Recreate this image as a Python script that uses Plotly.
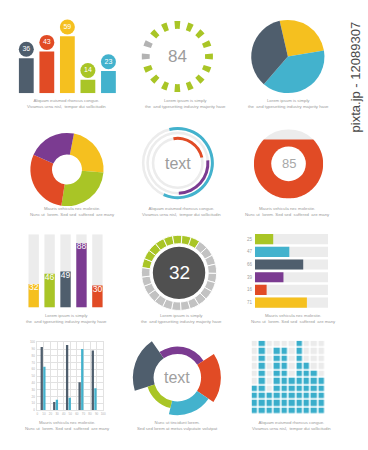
import numpy as np
import plotly.graph_objects as go

W, H = 368, 450

def fx(x):
    return x / W

def fy(y):
    return 1 - y / H

# ---------------- colours ----------------
YELLOW = "#f5c01f"
RED = "#e14b25"
SLATE = "#4f5e6d"
GREEN = "#a9c526"
BLUE = "#43b2cd"
PURPLE = "#7b3b91"
LIGHT = "#ececec"
TXT = "#9a9a9a"

# ---------------- data ----------------
p1_values = [36, 43, 59, 14, 23]
p1_colors = [SLATE, RED, YELLOW, GREEN, BLUE]

p2_value = 84
p2_dot_angles = [0, 22.5, 45, 67.5, 90, 112.5, 135, 157.5, 180, 202.5, 225, 247.5, 270, 292.5, 315, 337.5]
p2_dot_on = [1, 1, 1, 1, 1, 1, 1, 1, 1, 1, 1, 1, 0, 0, 1, 1]

p3_values = [26, 39, 35]
p3_colors = [YELLOW, BLUE, SLATE]

p4_values = [23.3, 26.1, 29.2, 21.4]
p4_colors = [YELLOW, GREEN, RED, PURPLE]

p5_ring_radii = [35, 30.5, 25]
p5_arc_start = [-14, 85, -10]
p5_arc_end = [204, 178, 77]
p5_arc_radius = [35, 30.5, 25]
p5_arc_colors = [BLUE, PURPLE, RED]

p6_value = 85

p7_values = [32, 46, 49, 88, 30]
p7_colors = [YELLOW, GREEN, SLATE, PURPLE, RED]

p8_value = 32
p8_segments = 25
p8_start = 278

p9_values = [25, 47, 66, 39, 16, 71]
p9_colors = [GREEN, BLUE, SLATE, PURPLE, RED, YELLOW]

p10_positions = [8.75, 27.75, 47.25, 66.25, 86.25]
p10_slate = [93, 12, 96, 41, 88]
p10_blue = [64, 15, 18, 90, 32]

p11_start = [253, 325, 57, 124, 193]
p11_end = [325, 417, 124, 193, 253]
p11_outer = [45, 31.5, 44, 38, 31.5]
p11_colors = [SLATE, PURPLE, RED, BLUE, GREEN]
p11_inner = 24

p12_heights = [4, 10, 3, 9, 9, 5, 10, 7, 6, 5]

captions = {
    "aliquam": "Aliquam euismod rhoncus congue.<br>Vivamus urna nisl,  tempor dui sollicitudin",
    "lorem": "Lorem ipsum is simply<br>the  and typesetting industry majority have",
    "mauris": "Mauris vehicula nec molestie.<br>Nunc ut  lorem. Sed sed  suffered  are many",
    "nunc": "Nunc ut tincidunt lorem.<br>Sed sed lorem at metus vulputate volutpat",
}

fig = go.Figure()

# ---------------- panel 1: bars + circles ----------------
fig.add_trace(go.Bar(x=list(range(5)), y=p1_values, marker=dict(color=p1_colors, line=dict(width=0)),
                     width=0.72, xaxis="x", yaxis="y", hoverinfo="skip"))
fig.add_trace(go.Scatter(x=list(range(5)), y=[v + 9.5 for v in p1_values], mode="markers+text",
                         marker=dict(size=15, color=p1_colors, line=dict(width=0)),
                         text=[str(v) for v in p1_values], textposition="middle center",
                         textfont=dict(color="white", size=7), xaxis="x", yaxis="y",
                         hoverinfo="skip", cliponaxis=False))

# ---------------- panel 2: dots spinner ----------------
fig.add_trace(go.Barpolar(theta=p2_dot_angles, r=[8] * len(p2_dot_angles), base=[28] * len(p2_dot_angles),
                          width=[9.5] * len(p2_dot_angles),
                          marker=dict(color=[GREEN if s else "#b3b3b3" for s in p2_dot_on], line=dict(width=0)),
                          subplot="polar", hoverinfo="skip"))

# ---------------- panel 3: pie ----------------
fig.add_trace(go.Pie(values=p3_values, marker=dict(colors=p3_colors, line=dict(width=0)), sort=False,
                     direction="clockwise", rotation=-13, textinfo="none", hoverinfo="skip",
                     domain=dict(x=[fx(253), fx(327)], y=[fy(92), fy(18)])))

# ---------------- panel 4: donut ----------------
fig.add_trace(go.Pie(values=p4_values, marker=dict(colors=p4_colors, line=dict(width=0)), sort=False,
                     direction="clockwise", rotation=11, hole=0.41, textinfo="none", hoverinfo="skip",
                     domain=dict(x=[fx(29.7), fx(103.7)], y=[fy(206), fy(132)])))

# ---------------- panel 5: concentric arcs ----------------
for rr in p5_ring_radii:
    fig.add_trace(go.Barpolar(theta=[180], width=[360], base=[rr - 1.3], r=[2.6],
                              marker=dict(color=LIGHT, line=dict(width=0)), subplot="polar2", hoverinfo="skip"))
for s, e, rr, c in zip(p5_arc_start, p5_arc_end, p5_arc_radius, p5_arc_colors):
    fig.add_trace(go.Barpolar(theta=[(s + e) / 2], width=[e - s], base=[rr - 1.5], r=[3],
                              marker=dict(color=c, line=dict(width=0)), subplot="polar2", hoverinfo="skip"))

# ---------------- panel 6: fill-level donut ----------------
lvl = -1 + 2 * p6_value / 100
a0 = np.arcsin(lvl)
ang = np.linspace(np.pi - a0, 2 * np.pi + a0, 120)
fig.add_trace(go.Scatter(x=np.cos(ang), y=np.sin(ang), fill="toself", fillcolor=RED, mode="none",
                         xaxis="x5", yaxis="y5", hoverinfo="skip"))

# ---------------- panel 7: vertical progress bars ----------------
fig.add_trace(go.Bar(x=list(range(5)), y=[100] * 5, marker=dict(color=LIGHT, line=dict(width=0)), width=0.65,
                     xaxis="x2", yaxis="y2", hoverinfo="skip"))
fig.add_trace(go.Bar(x=list(range(5)), y=p7_values, marker=dict(color=p7_colors, line=dict(width=0)), width=0.65,
                     xaxis="x2", yaxis="y2", hoverinfo="skip"))
fig.add_trace(go.Scatter(x=list(range(5)), y=p7_values, mode="text", text=[str(v) for v in p7_values],
                         textposition="bottom center", textfont=dict(color="white", size=8.5),
                         xaxis="x2", yaxis="y2", hoverinfo="skip", cliponaxis=False))

# ---------------- panel 8: segmented ring ----------------
seg_w = 360 / p8_segments
n_on = round(p8_value / 100 * p8_segments)
fig.add_trace(go.Barpolar(theta=[p8_start + (i + 0.5) * seg_w for i in range(p8_segments)],
                          width=[seg_w] * p8_segments, base=[29.5] * p8_segments, r=[8.5] * p8_segments,
                          marker=dict(color=[GREEN if i < n_on else "#c2c2c2" for i in range(p8_segments)],
                                      line=dict(color="white", width=0.9)),
                          subplot="polar3", hoverinfo="skip"))
fig.add_trace(go.Barpolar(theta=[180], width=[360], base=[0], r=[26.5],
                          marker=dict(color="#505050", line=dict(width=0)), subplot="polar3", hoverinfo="skip"))

# ---------------- panel 9: horizontal bars ----------------
fig.add_trace(go.Bar(y=list(range(6)), x=[100] * 6, orientation="h", marker=dict(color=LIGHT, line=dict(width=0)),
                     width=0.8, xaxis="x3", yaxis="y3", hoverinfo="skip"))
fig.add_trace(go.Bar(y=list(range(6)), x=p9_values, orientation="h", marker=dict(color=p9_colors, line=dict(width=0)),
                     width=0.8, xaxis="x3", yaxis="y3", hoverinfo="skip"))

# ---------------- panel 10: grouped bars with grid ----------------
fig.add_trace(go.Bar(x=p10_positions, y=p10_slate, width=3.5, offset=-3.75, marker=dict(color=SLATE, line=dict(width=0)),
                     xaxis="x4", yaxis="y4", hoverinfo="skip"))
fig.add_trace(go.Bar(x=p10_positions, y=p10_blue, width=3.5, offset=0.25, marker=dict(color=BLUE, line=dict(width=0)),
                     xaxis="x4", yaxis="y4", hoverinfo="skip"))

# ---------------- panel 11: radial segments ----------------
for s, e, ro, c in zip(p11_start, p11_end, p11_outer, p11_colors):
    fig.add_trace(go.Barpolar(theta=[(s + e) / 2], width=[e - s], base=[p11_inner], r=[ro - p11_inner],
                              marker=dict(color=c, line=dict(width=0)), subplot="polar4", hoverinfo="skip"))

# ---------------- panel 12: cell columns ----------------
z = [[1 if r < h else 0 for h in p12_heights] for r in range(10)]
fig.add_trace(go.Heatmap(z=z, x=list(range(10)), y=list(range(10)), xgap=1.6, ygap=1.6, zmin=0, zmax=1,
                         colorscale=[[0, "#ebebeb"], [1, "#3aaecb"]], showscale=False,
                         xaxis="x6", yaxis="y6", hoverinfo="skip"))

hid = dict(visible=False, fixedrange=True)

polar_common = dict(
    bgcolor="rgba(0,0,0,0)",
    barmode="overlay",
    angularaxis=dict(visible=False, rotation=90, direction="clockwise"),
)

def sq(cx, cy, half):
    return dict(x=[fx(cx - half), fx(cx + half)], y=[fy(cy + half), fy(cy - half)])

fig.update_layout(
    width=W, height=H, margin=dict(l=0, r=0, t=0, b=0),
    paper_bgcolor="white", plot_bgcolor="rgba(0,0,0,0)", showlegend=False,
    barmode="overlay", font=dict(family="Liberation Sans, Arial, sans-serif", color=TXT),
    # panel 1
    xaxis=dict(hid, domain=[fx(15.2), fx(119)], range=[-0.5, 4.5], anchor="y"),
    yaxis=dict(hid, domain=[fy(92), fy(12)], range=[0, 82], anchor="x"),
    # panel 7
    xaxis2=dict(hid, domain=[fx(25), fx(105.5)], range=[-0.5, 4.5], anchor="y2"),
    yaxis2=dict(hid, domain=[fy(308.3), fy(234.3)], range=[0, 100], anchor="x2"),
    # panel 9
    xaxis3=dict(hid, domain=[fx(256.7), fx(330.7)], range=[0, 100], anchor="y3"),
    yaxis3=dict(domain=[fy(309.7), fy(232.9)], range=[5.5, -0.5], anchor="x3", fixedrange=True,
                showgrid=False, zeroline=False, showline=False, ticks="",
                tickvals=list(range(6)), ticktext=[str(v) for v in p9_values],
                tickfont=dict(size=4.5, color="#a0a0a0"), ticklabelstandoff=2),
    # panel 10
    xaxis4=dict(domain=[fx(36.7), fx(103.3)], range=[0, 100], anchor="y4", fixedrange=True,
                dtick=10, showgrid=True, gridcolor="#e2e2e2", gridwidth=0.6, zeroline=False,
                showline=True, mirror=True, linecolor="#e2e2e2", linewidth=0.6, ticks="",
                tickfont=dict(size=3, color="#b0b0b0"), ticklabelstandoff=1),
    yaxis4=dict(domain=[fy(411.7), fy(343.3)], range=[0, 100], anchor="x4", fixedrange=True,
                dtick=10, showgrid=True, gridcolor="#e2e2e2", gridwidth=0.6, zeroline=False,
                showline=True, mirror=True, linecolor="#e2e2e2", linewidth=0.6, ticks="",
                tickfont=dict(size=3, color="#b0b0b0"), ticklabelstandoff=1),
    # panel 6
    xaxis5=dict(hid, domain=[fx(255.7), fx(325.7)], range=[-1, 1], anchor="y5"),
    yaxis5=dict(hid, domain=[fy(198.3), fy(128.3)], range=[-1, 1], anchor="x5"),
    # panel 12
    xaxis6=dict(hid, domain=[fx(253.3), fx(328.3)], range=[-0.5, 9.5], anchor="y6"),
    yaxis6=dict(hid, domain=[fy(416.7), fy(341.7)], range=[-0.5, 9.5], anchor="x6"),
    polar=dict(polar_common, domain=sq(178.3, 55, 40), radialaxis=dict(visible=False, range=[0, 40])),
    polar2=dict(polar_common, domain=sq(178.7, 162.5, 40), radialaxis=dict(visible=False, range=[0, 40])),
    polar3=dict(polar_common, domain=sq(180, 273.3, 40), radialaxis=dict(visible=False, range=[0, 40])),
    polar4=dict(polar_common, domain=sq(178.3, 379, 50), radialaxis=dict(visible=False, range=[0, 50])),
)

# panel 6 shapes: grey disk below, white hole above
fig.add_shape(type="circle", xref="x5", yref="y5", x0=-1, y0=-1, x1=1, y1=1,
              fillcolor=LIGHT, line=dict(width=0), layer="below")
fig.add_shape(type="circle", xref="x5", yref="y5", x0=-0.5, y0=-0.5, x1=0.5, y1=0.5,
              fillcolor="white", line=dict(width=0), layer="above")

ann = []

def add_text(x, y, text, size, color=TXT, angle=0):
    ann.append(dict(x=fx(x), y=fy(y), xref="paper", yref="paper", text=text, showarrow=False,
                    xanchor="center", yanchor="middle", font=dict(size=size, color=color), textangle=angle))

add_text(178.3, 55, str(p2_value), 17, "#9c9c9c")
add_text(178.7, 163, "text", 16, "#9c9c9c")
add_text(290.7, 163.3, str(p6_value), 13, "#a8a8a8")
add_text(180, 273.3, str(p8_value), 19, "white")
add_text(178.3, 379, "text", 16, "#a0a0a0")

cap_size = 4.3
add_text(66.7, 102.7, captions["aliquam"], cap_size)
add_text(186.7, 102.7, captions["lorem"], cap_size)
add_text(291, 102.7, captions["lorem"], cap_size)
add_text(72.5, 211.5, captions["mauris"], cap_size)
add_text(182.5, 211.3, captions["aliquam"], cap_size)
add_text(290, 211.6, captions["mauris"], cap_size)
add_text(66, 319.3, captions["lorem"], cap_size)
add_text(182, 319.2, captions["lorem"], cap_size)
add_text(296, 319.6, captions["mauris"], cap_size)
add_text(67, 427.5, captions["mauris"], cap_size)
add_text(178.3, 427.5, captions["nunc"], cap_size)
add_text(293.3, 427.8, captions["aliquam"], cap_size)

add_text(358, 76, "pixta.jp - 12089307", 13, "#4a4a4a", -90)

fig.update_layout(annotations=ann)

fig.write_html("out.html")
